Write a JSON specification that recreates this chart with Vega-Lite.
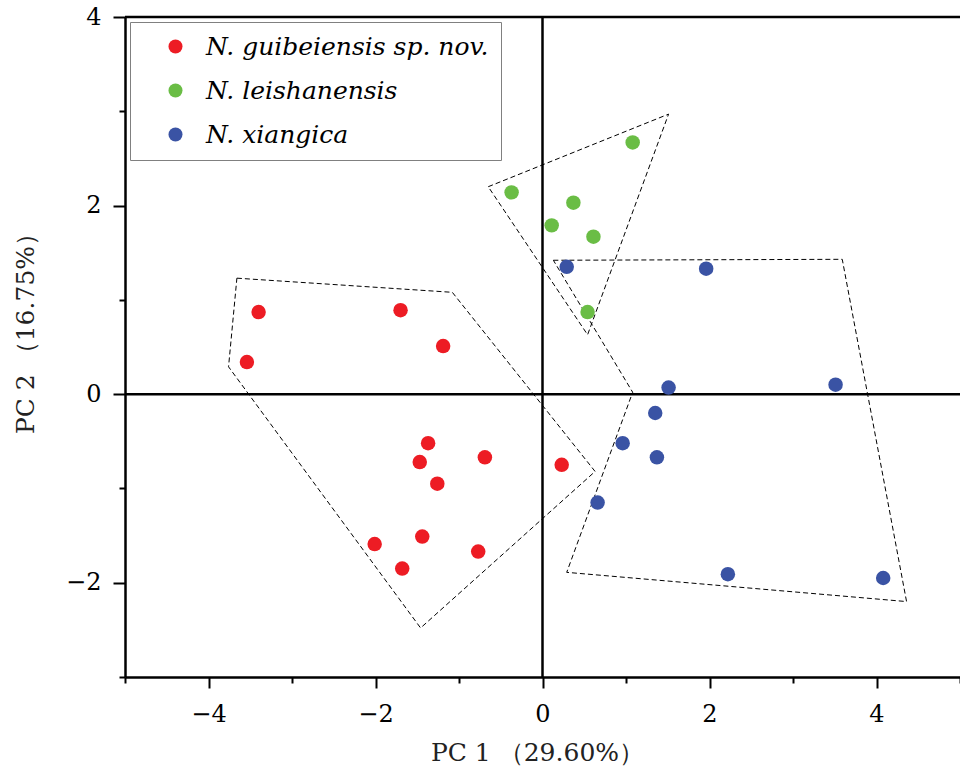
{
  "$schema": "https://vega.github.io/schema/vega-lite/v6.json",
  "width": 835,
  "height": 660,
  "autosize": {"type": "none"},
  "padding": {"left": 125, "top": 17, "right": 0, "bottom": 96},
  "background": "white",
  "config": {
    "view": {"stroke": null},
    "axis": {
      "grid": false,
      "domainColor": "black",
      "domainWidth": 2.5,
      "tickColor": "black",
      "tickWidth": 2,
      "labelFont": "DejaVu Serif",
      "labelFontSize": 24,
      "labelColor": "black",
      "titleFont": "DejaVu Serif",
      "titleFontSize": 25,
      "titleFontWeight": "normal",
      "titleColor": "#222222",
      "labelFlush": false,
      "labelOverlap": false
    }
  },
  "datasets": {
    "points": [
      {"species": "N. guibeiensis sp. nov.", "pc1": -3.40, "pc2": 0.87},
      {"species": "N. guibeiensis sp. nov.", "pc1": -3.54, "pc2": 0.34},
      {"species": "N. guibeiensis sp. nov.", "pc1": -1.70, "pc2": 0.89},
      {"species": "N. guibeiensis sp. nov.", "pc1": -1.19, "pc2": 0.51},
      {"species": "N. guibeiensis sp. nov.", "pc1": -1.37, "pc2": -0.52},
      {"species": "N. guibeiensis sp. nov.", "pc1": -1.47, "pc2": -0.72},
      {"species": "N. guibeiensis sp. nov.", "pc1": -0.69, "pc2": -0.67},
      {"species": "N. guibeiensis sp. nov.", "pc1": -1.26, "pc2": -0.95},
      {"species": "N. guibeiensis sp. nov.", "pc1": 0.23, "pc2": -0.75},
      {"species": "N. guibeiensis sp. nov.", "pc1": -1.44, "pc2": -1.51},
      {"species": "N. guibeiensis sp. nov.", "pc1": -2.01, "pc2": -1.59},
      {"species": "N. guibeiensis sp. nov.", "pc1": -1.68, "pc2": -1.85},
      {"species": "N. guibeiensis sp. nov.", "pc1": -0.77, "pc2": -1.67},
      {"species": "N. leishanensis", "pc1": 1.08, "pc2": 2.67},
      {"species": "N. leishanensis", "pc1": -0.37, "pc2": 2.14},
      {"species": "N. leishanensis", "pc1": 0.37, "pc2": 2.03},
      {"species": "N. leishanensis", "pc1": 0.11, "pc2": 1.79},
      {"species": "N. leishanensis", "pc1": 0.61, "pc2": 1.67},
      {"species": "N. leishanensis", "pc1": 0.54, "pc2": 0.87},
      {"species": "N. xiangica", "pc1": 0.29, "pc2": 1.35},
      {"species": "N. xiangica", "pc1": 1.96, "pc2": 1.33},
      {"species": "N. xiangica", "pc1": 1.51, "pc2": 0.07},
      {"species": "N. xiangica", "pc1": 3.51, "pc2": 0.10},
      {"species": "N. xiangica", "pc1": 1.35, "pc2": -0.20},
      {"species": "N. xiangica", "pc1": 0.96, "pc2": -0.52},
      {"species": "N. xiangica", "pc1": 1.37, "pc2": -0.67},
      {"species": "N. xiangica", "pc1": 0.66, "pc2": -1.15},
      {"species": "N. xiangica", "pc1": 2.22, "pc2": -1.91},
      {"species": "N. xiangica", "pc1": 4.08, "pc2": -1.95}
    ],
    "hulls": [
      {"group": "guibeiensis", "order": 1, "pc1": -3.66, "pc2": 1.23},
      {"group": "guibeiensis", "order": 2, "pc1": -1.08, "pc2": 1.08},
      {"group": "guibeiensis", "order": 3, "pc1": 0.63, "pc2": -0.82},
      {"group": "guibeiensis", "order": 4, "pc1": -1.46, "pc2": -2.48},
      {"group": "guibeiensis", "order": 5, "pc1": -3.76, "pc2": 0.29},
      {"group": "guibeiensis", "order": 6, "pc1": -3.66, "pc2": 1.23},
      {"group": "leishanensis", "order": 1, "pc1": -0.65, "pc2": 2.20},
      {"group": "leishanensis", "order": 2, "pc1": 1.51, "pc2": 2.97},
      {"group": "leishanensis", "order": 3, "pc1": 0.54, "pc2": 0.63},
      {"group": "leishanensis", "order": 4, "pc1": -0.65, "pc2": 2.20},
      {"group": "xiangica", "order": 1, "pc1": 0.13, "pc2": 1.42},
      {"group": "xiangica", "order": 2, "pc1": 3.59, "pc2": 1.43},
      {"group": "xiangica", "order": 3, "pc1": 4.36, "pc2": -2.20},
      {"group": "xiangica", "order": 4, "pc1": 0.29, "pc2": -1.89},
      {"group": "xiangica", "order": 5, "pc1": 1.08, "pc2": 0.02},
      {"group": "xiangica", "order": 6, "pc1": 0.13, "pc2": 1.42}
    ]
  },
  "layer": [
    {
      "data": {"name": "hulls"},
      "mark": {"type": "line", "stroke": "black", "strokeWidth": 1, "strokeDash": [5, 3], "strokeCap": "butt"},
      "encoding": {
        "x": {"field": "pc1", "type": "quantitative", "scale": {"domain": [-5, 5], "nice": false, "zero": false},
          "axis": {"title": "PC 1 （29.60%）", "values": [-5, -4, -3, -2, -1, 0, 1, 2, 3, 4, 5], "format": "d",
            "labelExpr": "datum.value % 2 === 0 ? datum.label : ''",
            "tickSize": {"condition": {"test": "datum.value % 2 === 0", "value": 11}, "value": 6},
            "labelPadding": 14, "titleX": 412, "titleY": 75, "titleBaseline": "middle", "titleAlign": "center"}},
        "y": {"field": "pc2", "type": "quantitative", "scale": {"domain": [-3, 4], "nice": false, "zero": false},
          "axis": {"title": "PC 2 （16.75%）", "values": [-3, -2, -1, 0, 1, 2, 3, 4], "format": "d",
            "labelExpr": "datum.value % 2 === 0 ? datum.label : ''",
            "tickSize": {"condition": {"test": "datum.value % 2 === 0", "value": 12}, "value": 6},
            "labelPadding": 12, "titleX": -100, "titleY": 310, "titleAngle": -90, "titleBaseline": "middle", "titleAlign": "center"}},
        "detail": {"field": "group"},
        "order": {"field": "order", "type": "quantitative"}
      }
    },
    {
      "data": {"values": [{}]},
      "mark": {"type": "rule", "color": "black", "strokeWidth": 2.5},
      "encoding": {"x": {"datum": 0, "type": "quantitative"}}
    },
    {
      "data": {"values": [{}]},
      "mark": {"type": "rule", "color": "black", "strokeWidth": 2.5},
      "encoding": {"y": {"datum": 0, "type": "quantitative"}}
    },
    {
      "data": {"values": [{}]},
      "mark": {"type": "rule", "color": "black", "strokeWidth": 2.5},
      "encoding": {"y": {"datum": 4, "type": "quantitative"}}
    },
    {
      "data": {"name": "points"},
      "mark": {"type": "point", "filled": true, "size": 210, "opacity": 1, "strokeWidth": 0},
      "encoding": {
        "x": {"field": "pc1", "type": "quantitative"},
        "y": {"field": "pc2", "type": "quantitative"},
        "color": {
          "field": "species", "type": "nominal",
          "scale": {"domain": ["N. guibeiensis sp. nov.", "N. leishanensis", "N. xiangica"], "range": ["#ED1C24", "#6ABD45", "#3A53A4"]},
          "legend": {
            "title": null, "orient": "none", "legendX": 5, "legendY": 5,
            "padding": 12, "symbolOffset": 21, "symbolType": "circle", "symbolSize": 196, "symbolStrokeWidth": 0,
            "labelFont": "DejaVu Serif", "labelFontStyle": "italic", "labelFontSize": 25, "labelColor": "black",
            "labelOffset": 18, "rowPadding": 18, "labelLimit": 400,
            "strokeColor": "#808080", "fillColor": "white"
          }
        }
      }
    }
  ]
}
